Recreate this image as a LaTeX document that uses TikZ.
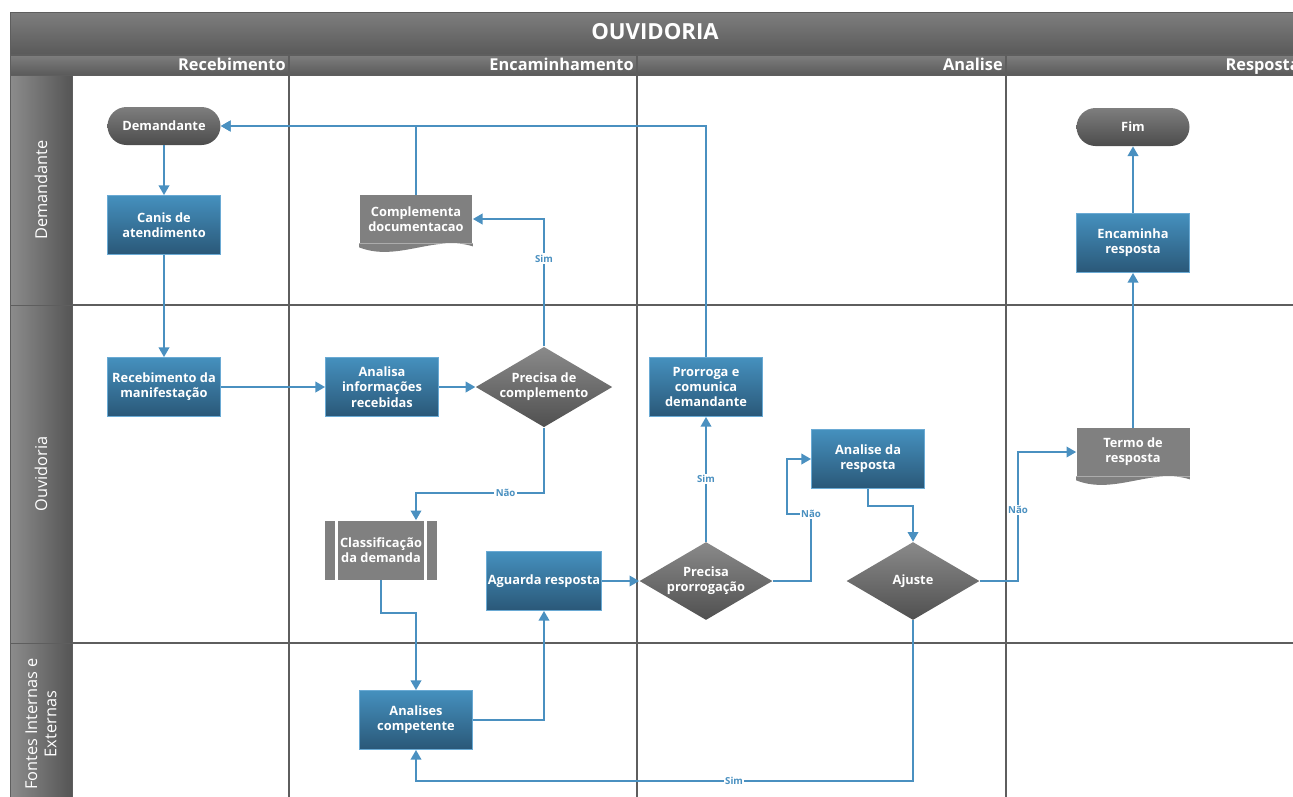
\documentclass[tikz,border=0pt]{standalone}
\usepackage{fontspec}
\setmainfont{Open Sans}
\usepackage{tikz}
\usetikzlibrary{arrows.meta,positioning,calc,shapes.geometric}
\definecolor{boxtop}{HTML}{4590BE}
\definecolor{boxbot}{HTML}{2A5878}
\definecolor{boxedge}{HTML}{6AAAD4}
\definecolor{termtop}{HTML}{7E7E7E}
\definecolor{termbot}{HTML}{4C4C4C}
\definecolor{dectop}{HTML}{8A8A8A}
\definecolor{decbot}{HTML}{505050}
\definecolor{docgray}{HTML}{808080}
\definecolor{lineblue}{HTML}{4A90C0}
\definecolor{headtop}{HTML}{7E7E7E}
\definecolor{headbot}{HTML}{5A5A5A}
\definecolor{lanelight}{HTML}{8C8C8C}
\definecolor{lanedark}{HTML}{555555}
\definecolor{gridcol}{HTML}{5E5E5E}

\begin{document}
\begin{tikzpicture}[x=0.02cm,y=-0.02cm,
    font=\fontsize{7.3}{8.7}\selectfont\bfseries,
    proc/.style={rectangle,draw=boxedge,line width=0.5pt,top color=boxtop,bottom color=boxbot,
                 text=white,align=center,minimum width=2.26cm,minimum height=1.18cm,inner sep=1pt},
    term/.style={rectangle,rounded corners=0.38cm,top color=termtop,bottom color=termbot,
                 text=white,minimum width=2.26cm,minimum height=0.76cm},
    decision/.style={diamond,aspect=1.7,top color=dectop,bottom color=decbot,text=white,
                 align=center,minimum width=2.66cm,minimum height=1.56cm,inner sep=0pt},
    docbox/.style={rectangle,fill=docgray,text=white,align=center,
                 minimum width=2.26cm,minimum height=0.96cm,inner sep=1pt},
    predef/.style={rectangle,fill=docgray,text=white,align=center,
                 minimum width=2.26cm,minimum height=1.18cm,inner sep=1pt,
                 path picture={
                   \draw[white,line width=1.2pt]
                     ([xshift=0.24cm]path picture bounding box.north west) --
                     ([xshift=0.24cm]path picture bounding box.south west)
                     ([xshift=-0.24cm]path picture bounding box.north east) --
                     ([xshift=-0.24cm]path picture bounding box.south east);}},
    flow/.style={draw=lineblue,line width=1.1pt,-{Triangle[length=5.5pt,width=6pt]}},
    lbl/.style={fill=white,text=lineblue,font=\fontsize{5.5}{6}\selectfont\bfseries,inner sep=0.8pt},
    pooltitle/.style={text=white,font=\fontsize{12.6}{14}\selectfont\bfseries},
    colhead/.style={text=white,font=\fontsize{9.3}{11}\selectfont\bfseries,inner sep=0pt},
    lanehead/.style={text=white,rotate=90,align=center,font=\fontsize{9.3}{11}\selectfont\mdseries},
    gridline/.style={draw=gridcol,line width=1.4pt}]
  \useasboundingbox (0,0) rectangle (1293,796);
  \clip (0,0) rectangle (1293,796);
  % pool and columns
  \shade[top color=headtop,bottom color=headbot,draw=gridcol] (10,12) rectangle (1310,54);
  \node[pooltitle] (pool) at (655,32) {OUVIDORIA};
  \foreach \xa/\xb/\lab/\nm in {10/289/Recebimento/rec,289/637/Encaminhamento/enc,
                                637/1006/Analise/ana,1006/1303/Resposta/res}{
    \shade[top color=headtop,bottom color=headbot,draw=gridcol] (\xa,55) rectangle (\xb,75);
    \node[colhead,anchor=base east] (col-\nm) at (\xb-3,70) {\lab};
  }
  % lanes
  \foreach \ya/\yb/\lab/\nm in {75/305/Demandante/dem,305/643/Ouvidoria/ouv,
                                643/805/{Fontes Internas e\\Externas}/fie}{
    \shade[left color=lanelight,right color=lanedark,draw=gridcol] (10,\ya) rectangle (72,\yb);
    \node[lanehead] (lane-\nm) at (41,{(\ya+\yb)/2}) {\lab};
  }
  \draw[gridline] (72,305) -- (1310,305) (72,643) -- (1310,643);
  \foreach \x in {289,637,1006} \draw[gridline] (\x,55) -- (\x,800);

  % shapes
  \node[term] (dem) at (164,126) {Demandante};
  \node[proc] (canis) at (164,225) {Canis de\\atendimento};
  \node[proc] (receb) at (164,387) {Recebimento da\\manifestação};
  \node[proc] (analisa) at (382,387) {Analisa\\informações\\recebidas};
  \node[decision] (preccomp) at (544,387) {Precisa de\\complemento};
  \node[docbox] (compl) at (416,219) {Complementa\\documentacao};
  \fill[docgray] (compl.south west) -- ++(0,4) .. controls +(38,15) and +(-38,-12)
    .. ($(compl.south east)+(0,3)$) -- (compl.south east) -- cycle;
  \node[predef] (classif) at (381,550) {Classificação\\da demanda};
  \node[proc] (aguarda) at (544,581) {Aguarda resposta};
  \node[proc] (analises) at (416,720) {Analises\\competente};
  \node[decision] (precpror) at (706,581) {Precisa\\prorrogação};
  \node[proc] (prorroga) at (706,387) {Prorroga e\\comunica\\demandante};
  \node[proc] (analresp) at (868,459) {Analise da\\resposta};
  \node[decision] (ajuste) at (913,581) {Ajuste};
  \node[docbox] (termo) at (1133,452) {Termo de\\resposta};
  \fill[docgray] (termo.south west) -- ++(0,4) .. controls +(38,15) and +(-38,-12)
    .. ($(termo.south east)+(0,3)$) -- (termo.south east) -- cycle;
  \node[proc] (encam) at (1133,243) {Encaminha\\resposta};
  \node[term] (fim) at (1133,127) {Fim};

  % connectors
  \coordinate (naojoin) at (416,493);
  \coordinate (naoa) at (811,514);
  \coordinate (naob) at (787,514);
  \coordinate (naoc) at (1018,510);
  \coordinate (simb) at (913,781);
  \draw[flow] (dem) -- (canis);
  \draw[flow] (canis) -- (receb);
  \draw[flow] (receb) -- (analisa);
  \draw[flow] (analisa) -- (preccomp);
  \draw[flow] (preccomp.north) |- node[lbl,pos=0.345]{Sim} (compl.east);
  \draw[flow] (compl.north) |- (dem.east);
  \draw[flow] (prorroga.north) |- (dem.east);
  \draw[flow] (preccomp.south) |- node[lbl,pos=0.65]{Não} (naojoin) -- (naojoin |- classif.north);
  \draw[flow] (classif.south) -- ++(0,33) -| (analises.north);
  \draw[flow] (analises.east) -| (aguarda.south);
  \draw[flow] (aguarda) -- (precpror);
  \draw[flow] (precpror.north) -- node[lbl,pos=0.5]{Sim} (prorroga.south);
  \draw[flow] (precpror.east) -| (naoa) -- (naob) |- (analresp.west);
  \node[lbl] (lbl-nao2) at (naoa) {Não};
  \draw[flow] (analresp.south) -- ++(0,17) -| (ajuste.north);
  \draw[flow] (ajuste.east) -| (naoc) |- (termo.west);
  \node[lbl] (lbl-nao3) at (naoc) {Não};
  \draw[flow] (ajuste.south) -- (simb) -| node[lbl,pos=0.18]{Sim} (analises.south);
  \draw[flow] (termo) -- (encam);
  \draw[flow] (encam) -- (fim);
\end{tikzpicture}
\end{document}
